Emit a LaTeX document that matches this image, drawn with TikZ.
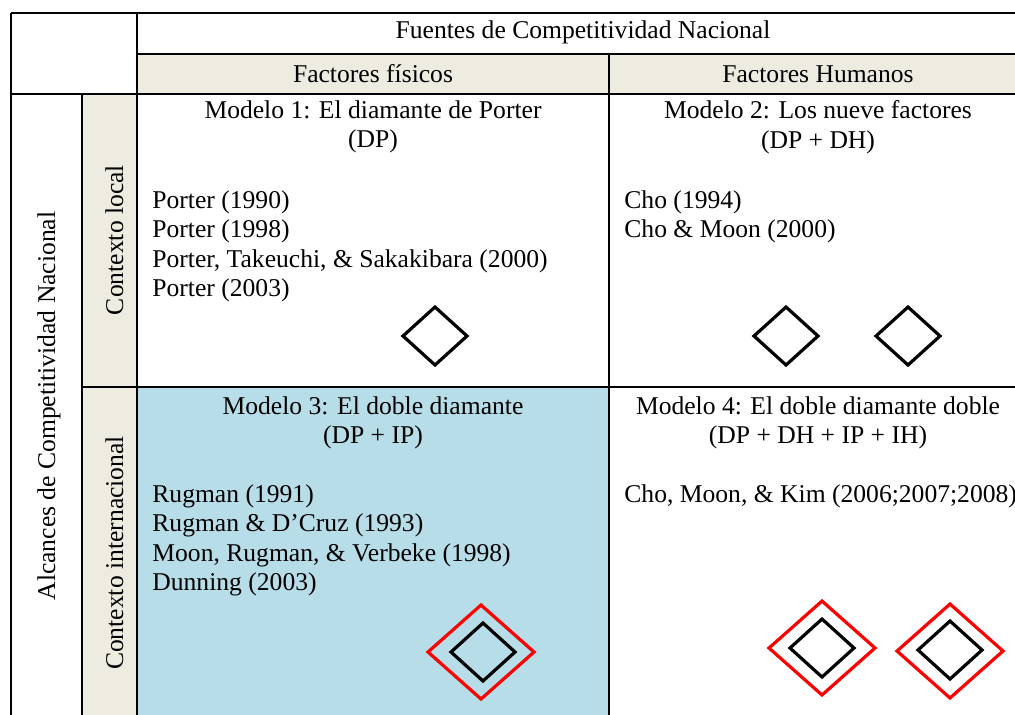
\documentclass[tikz,border=0pt]{standalone}
\usepackage{fontspec}
\setmainfont{Liberation Serif}
\definecolor{beige}{HTML}{EEECE1}
\definecolor{celeste}{HTML}{B7DDE8}

\begin{document}
\begin{tikzpicture}[x=0.5pt, y=-0.5pt,
    every node/.style={font=\fontsize{12.8}{14.8}\selectfont, inner sep=0pt},
    linea/.style={black, line width=0.75pt},
    rombo/.style={black, line width=1.6pt},
    rojo/.style={red, line width=1.6pt}]
          \useasboundingbox (0,0) rectangle (1015,714);

          \fill [beige] (137,54) rectangle (1030,94); % header row
          \fill [beige] (82,94) rectangle (137,720); % context column
          \fill [celeste] (137,387) rectangle (609,720); % Modelo 3

          \draw [linea] (11,13) -- (1030,13);
          \draw [linea] (137,54) -- (1030,54);
          \draw [linea] (11,94) -- (1030,94);
          \draw [linea] (82,387) -- (1030,387);

          \draw [linea] (11,13) -- (11,720);
          \draw [linea] (82,94) -- (82,720);
          \draw [linea] (137,13) -- (137,720);
          \draw [linea] (609,54) -- (609,720);

          \node [anchor=base] (fuentes) at (583,38) {Fuentes de Competitividad Nacional};
          \node [anchor=base] (fisicos) at (373,82) {Factores físicos};
          \node [anchor=base] (humanos) at (818,82) {Factores Humanos};

          \node [anchor=base, rotate=90] (alcances) at (55,406) {Alcances de Competitividad Nacional};
          \node [anchor=base, rotate=90] (local) at (123,240) {Contexto local};
          \node [anchor=base, rotate=90] (internacional) at (123,553) {Contexto internacional};

          \node [anchor=north, align=center] (m1) at (373,100) {Modelo 1: El diamante de Porter\\(DP)};
          \node [anchor=north, align=center] (m2) at (818,100) {Modelo 2: Los nueve factores\\(DP + DH)};
          \node [anchor=north, align=center] (m3) at (373,396) {Modelo 3: El doble diamante\\(DP + IP)};
          \node [anchor=north, align=center] (m4) at (818,396) {Modelo 4: El doble diamante doble\\(DP + DH + IP + IH)};

          \node [anchor=north west, align=left] (r1) at (152,190) {Porter (1990)\\Porter (1998)\\Porter, Takeuchi, \& Sakakibara (2000)\\Porter (2003)};
          \node [anchor=north west, align=left] (r2) at (624,190) {Cho (1994)\\Cho \& Moon (2000)};
          \node [anchor=north west, align=left] (r3) at (152,484) {Rugman (1991)\\Rugman \& D’Cruz (1993)\\Moon, Rugman, \& Verbeke (1998)\\Dunning (2003)};
          \node [anchor=north west, align=left] (r4) at (624,484) {Cho, Moon, \& Kim (2006;2007;2008)};

          \draw [rombo] (435,336) +(-32,0) -- +(0,-29) -- +(32,0) -- +(0,29) -- cycle; % DP
          \draw [rombo] (786,336) +(-32,0) -- +(0,-29) -- +(32,0) -- +(0,29) -- cycle; % DP
          \draw [rombo] (908,336) +(-32,0) -- +(0,-29) -- +(32,0) -- +(0,29) -- cycle; % DH

          \draw [rojo] (481,652) +(-53,0) -- +(0,-47) -- +(53,0) -- +(0,47) -- cycle;
          \draw [rombo] (483,652) +(-32,0) -- +(0,-29) -- +(32,0) -- +(0,29) -- cycle;

          \draw [rojo] (822,648) +(-53,0) -- +(0,-47) -- +(53,0) -- +(0,47) -- cycle;
          \draw [rombo] (822,648) +(-32,0) -- +(0,-29) -- +(32,0) -- +(0,29) -- cycle;
          \draw [rojo] (950,651) +(-53,0) -- +(0,-47) -- +(53,0) -- +(0,47) -- cycle;
          \draw [rombo] (950,650) +(-32,0) -- +(0,-29) -- +(32,0) -- +(0,29) -- cycle;
        \end{tikzpicture}
\end{document}
